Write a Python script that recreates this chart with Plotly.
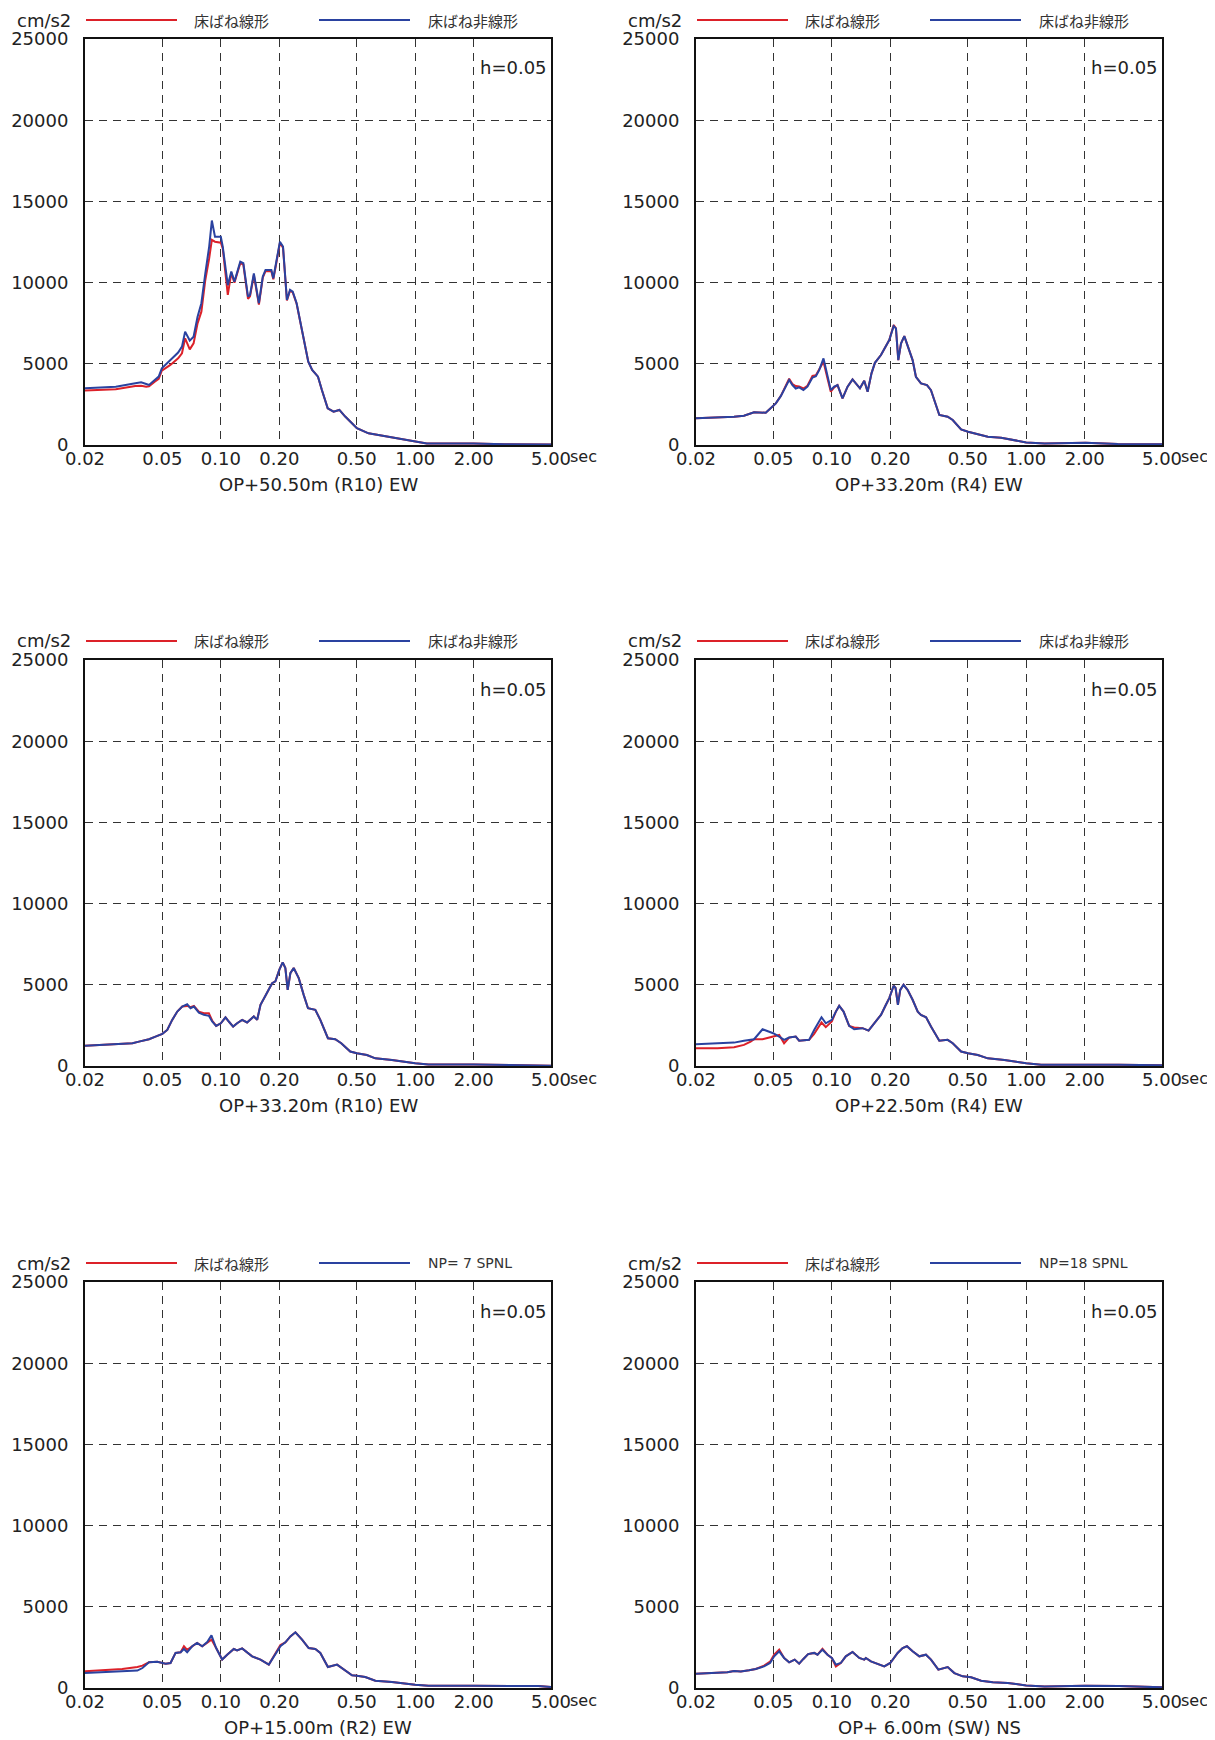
import math
import plotly.graph_objects as go

# spectra (period in sec, acceleration in cm/s2)

# OP+50.50m (R10) EW
period_1 = [0.02, 0.0288, 0.0363, 0.0389, 0.0413, 0.0427, 0.0457, 0.0479, 0.0497, 0.055,
            0.0603, 0.0631, 0.0655, 0.0692, 0.0724, 0.0759, 0.0794, 0.0832, 0.0871, 0.0899,
            0.0933, 0.1, 0.1023, 0.1086, 0.1132, 0.1175, 0.1259, 0.1306, 0.138, 0.1413,
            0.1479, 0.157, 0.1644, 0.1698, 0.182, 0.1862, 0.1923, 0.2014, 0.2089, 0.2188,
            0.227, 0.2344, 0.2455, 0.2606, 0.2818, 0.2951, 0.3162, 0.3311, 0.3548, 0.3802,
            0.4074, 0.4365, 0.5012, 0.5754, 0.7244, 0.8318, 1.0, 1.148, 1.995, 2.884, 5.0]
linear_1 = [3350, 3430, 3630, 3650, 3590, 3620, 3900, 4070, 4580, 4930,
            5340, 5650, 6570, 5890, 6260, 7490, 8210, 10160, 11500, 12630,
            12520, 12460, 12110, 9240, 10600, 10000, 11200, 11100, 9000, 9150,
            10450, 8650, 10300, 10700, 10700, 10200, 11100, 12450, 12150, 8900,
            9500, 9400, 8700, 7080, 5130, 4620, 4210, 3390, 2260, 2050,
            2160, 1750, 1030, 720, 510, 350, 200, 100, 100, 40, 30]
nonlin_1 = [3490, 3590, 3800, 3860, 3760, 3700, 4000, 4210, 4720, 5230,
            5690, 6060, 6980, 6430, 6670, 7900, 8730, 10570, 12220, 13820,
            12830, 12830, 12220, 9840, 10680, 10060, 11290, 11190, 9140, 9240,
            10570, 8730, 10370, 10780, 10780, 10270, 11190, 12520, 12220, 8930,
            9550, 9440, 8730, 7080, 5130, 4620, 4210, 3390, 2260, 2050,
            2160, 1750, 1030, 720, 510, 350, 200, 100, 100, 40, 30]

# OP+33.20m (R4) EW
period_2 = [0.02, 0.0258, 0.0314, 0.0353, 0.0375, 0.0398, 0.0457, 0.0485, 0.0515, 0.0546,
            0.0568, 0.0603, 0.0627, 0.0652, 0.0679, 0.0714, 0.0749, 0.0795, 0.0828, 0.0861,
            0.0906, 0.095, 0.0988, 0.1028, 0.107, 0.1135, 0.1205, 0.1278, 0.133, 0.1395,
            0.1468, 0.1528, 0.16, 0.1666, 0.179, 0.1876, 0.1975, 0.208, 0.2138, 0.2198,
            0.2269, 0.236, 0.2474, 0.2604, 0.2708, 0.2876, 0.3088, 0.3237, 0.3573, 0.3945,
            0.4188, 0.4624, 0.5023, 0.5638, 0.6345, 0.743, 1.0, 1.245, 2.02, 2.96, 5.0]
linear_2 = [1640, 1680, 1740, 1800, 1890, 2010, 1990, 2250, 2560, 3010,
            3420, 4080, 3750, 3630, 3600, 3480, 3650, 4250, 4300, 4650,
            5130, 4100, 3280, 3550, 3690, 2870, 3590, 4040, 3790, 3490,
            3960, 3280, 4410, 5060, 5540, 5950, 6460, 7380, 7180, 5230,
            6250, 6700, 5950, 5230, 4200, 3790, 3690, 3380, 1850, 1740,
            1540, 960, 820, 680, 510, 450, 160, 100, 140, 60, 40]
nonlin_2 = [1640, 1680, 1740, 1800, 1890, 2010, 1990, 2250, 2560, 3010,
            3420, 4000, 3690, 3480, 3550, 3380, 3590, 4160, 4240, 4610,
            5330, 4200, 3380, 3590, 3690, 2870, 3590, 4040, 3790, 3490,
            3960, 3280, 4410, 5060, 5540, 5950, 6460, 7320, 7180, 5230,
            6250, 6700, 5950, 5230, 4200, 3790, 3690, 3380, 1850, 1740,
            1540, 960, 820, 680, 510, 450, 160, 100, 140, 60, 40]

# OP+33.20m (R10) EW
period_3 = [0.02, 0.0256, 0.0311, 0.0351, 0.0379, 0.0427, 0.0461, 0.05, 0.053, 0.0562,
            0.0597, 0.0633, 0.0671, 0.0698, 0.0727, 0.0771, 0.0818, 0.0868, 0.0902, 0.0946,
            0.1, 0.1057, 0.1099, 0.1157, 0.1213, 0.1287, 0.1365, 0.1478, 0.1538, 0.16,
            0.1696, 0.1836, 0.1909, 0.2001, 0.2081, 0.2148, 0.2208, 0.228, 0.2371, 0.2517,
            0.2669, 0.2809, 0.3063, 0.325, 0.3557, 0.3878, 0.4165, 0.4634, 0.5012, 0.5643,
            0.6237, 0.7592, 1.0, 1.17, 2.0, 3.0, 5.0]
linear_3 = [1240, 1300, 1340, 1400, 1500, 1650, 1810, 1980, 2220, 2840,
            3350, 3660, 3700, 3620, 3700, 3350, 3250, 3250, 2800, 2470,
            2630, 3000, 2740, 2430, 2630, 2840, 2680, 3050, 2840, 3770,
            4320, 5100, 5210, 5930, 6380, 6030, 4690, 5720, 6030, 5410,
            4380, 3560, 3460, 2840, 1710, 1650, 1400, 890, 780, 680,
            470, 370, 165, 100, 100, 80, 20]
nonlin_3 = [1240, 1300, 1340, 1400, 1500, 1650, 1810, 1980, 2220, 2840,
            3350, 3660, 3810, 3560, 3660, 3290, 3150, 3090, 2740, 2470,
            2630, 3000, 2740, 2430, 2630, 2840, 2680, 3050, 2840, 3770,
            4320, 5100, 5210, 5930, 6380, 6030, 4690, 5720, 6030, 5410,
            4380, 3560, 3460, 2840, 1710, 1650, 1400, 890, 780, 680,
            470, 370, 165, 100, 100, 80, 20]

# OP+22.50m (R4) EW
period_4 = [0.02, 0.0258, 0.0314, 0.0353, 0.0382, 0.0398, 0.044, 0.0499, 0.0536, 0.0568,
            0.0603, 0.0652, 0.0679, 0.0764, 0.0811, 0.0885, 0.0931, 0.1, 0.1049, 0.1091,
            0.1149, 0.1228, 0.1303, 0.1439, 0.1545, 0.1652, 0.179, 0.1898, 0.1975, 0.208,
            0.2128, 0.2188, 0.2249, 0.2339, 0.2453, 0.2604, 0.2767, 0.2874, 0.3055, 0.3237,
            0.3573, 0.3945, 0.4188, 0.4624, 0.5023, 0.5638, 0.6345, 0.7727, 1.0, 1.194,
            2.0, 3.0, 5.0]
linear_4 = [1090, 1090, 1150, 1300, 1500, 1650, 1650, 1810, 1910, 1400,
            1750, 1810, 1560, 1610, 1980, 2680, 2390, 2740, 3350, 3700,
            3350, 2470, 2370, 2330, 2180, 2630, 3150, 3770, 4180, 4940,
            4800, 3770, 4690, 5000, 4690, 4080, 3350, 3150, 3000, 2430,
            1560, 1610, 1400, 890, 780, 680, 470, 370, 165, 80,
            100, 80, 40]
nonlin_4 = [1340, 1400, 1440, 1560, 1610, 1650, 2260, 2020, 1810, 1610,
            1750, 1810, 1560, 1610, 2220, 3000, 2630, 2840, 3350, 3700,
            3350, 2470, 2260, 2330, 2180, 2630, 3150, 3770, 4180, 4940,
            4800, 3770, 4690, 5000, 4690, 4080, 3350, 3150, 3000, 2430,
            1560, 1610, 1400, 890, 780, 680, 470, 370, 165, 80,
            100, 80, 40]

# OP+15.00m (R2) EW
period_5 = [0.02, 0.0256, 0.0311, 0.0372, 0.0395, 0.0427, 0.0471, 0.05, 0.052, 0.0551,
            0.0585, 0.0621, 0.0646, 0.0671, 0.0712, 0.0755, 0.0802, 0.0851, 0.0895, 0.0946,
            0.1016, 0.1078, 0.1166, 0.1213, 0.1287, 0.1449, 0.16, 0.1766, 0.1871, 0.2026,
            0.2148, 0.228, 0.242, 0.2618, 0.2831, 0.3063, 0.325, 0.3557, 0.3963, 0.4284,
            0.4732, 0.5012, 0.5534, 0.6237, 0.7592, 1.0, 1.17, 2.0, 3.0, 4.3, 5.0]
linear_5 = [1030, 1090, 1170, 1290, 1380, 1580, 1620, 1540, 1500, 1540,
            2160, 2200, 2570, 2350, 2570, 2770, 2570, 2770, 2980, 2460,
            1750, 2050, 2400, 2320, 2440, 1950, 1750, 1440, 1950, 2650,
            2810, 3180, 3430, 2980, 2460, 2400, 2160, 1290, 1440, 1130,
            780, 760, 680, 450, 370, 200, 140, 140, 120, 120, 60]
nonlin_5 = [920, 970, 1010, 1070, 1230, 1580, 1620, 1540, 1500, 1540,
            2160, 2200, 2400, 2200, 2570, 2770, 2570, 2830, 3240, 2460,
            1750, 2050, 2400, 2320, 2440, 1950, 1750, 1440, 1950, 2570,
            2810, 3180, 3430, 2980, 2460, 2400, 2160, 1290, 1440, 1130,
            780, 760, 680, 450, 370, 200, 140, 140, 120, 120, 60]

# OP+ 6.00m (SW) NS
period_6 = [0.02, 0.0258, 0.029, 0.0314, 0.034, 0.0375, 0.0406, 0.0448, 0.0481, 0.0505,
            0.0536, 0.0568, 0.0603, 0.0644, 0.0679, 0.0714, 0.0755, 0.0811, 0.0844, 0.0895,
            0.095, 0.1, 0.1049, 0.1112, 0.118, 0.1278, 0.1384, 0.1468, 0.1496, 0.1589,
            0.1719, 0.1862, 0.1999, 0.2181, 0.2313, 0.2435, 0.2604, 0.2819, 0.305, 0.3238,
            0.3533, 0.3946, 0.4271, 0.4716, 0.5205, 0.5861, 0.6731, 0.8042, 1.0, 1.245,
            2.0, 3.0, 5.0]
linear_6 = [880, 920, 970, 1050, 1010, 1090, 1170, 1380, 1620, 2050,
            2360, 1850, 1580, 1750, 1500, 1790, 2090, 2160, 2050, 2420,
            2050, 1850, 1330, 1540, 1950, 2220, 1850, 1750, 1850, 1640,
            1500, 1330, 1540, 2160, 2460, 2570, 2260, 1950, 2050, 1750,
            1130, 1290, 920, 720, 660, 450, 350, 310, 160, 100,
            140, 120, 40]
nonlin_6 = [880, 920, 970, 1050, 1010, 1090, 1170, 1330, 1540, 1950,
            2260, 1850, 1580, 1750, 1500, 1790, 2090, 2160, 2050, 2360,
            2050, 1850, 1440, 1540, 1950, 2220, 1850, 1750, 1850, 1640,
            1500, 1330, 1540, 2160, 2460, 2570, 2260, 1950, 2050, 1750,
            1130, 1290, 920, 720, 660, 450, 350, 310, 160, 100,
            140, 120, 40]

periods = [period_1, period_2, period_3, period_4, period_5, period_6]
linears = [linear_1, linear_2, linear_3, linear_4, linear_5, linear_6]
nonlins = [nonlin_1, nonlin_2, nonlin_3, nonlin_4, nonlin_5, nonlin_6]

titles = ["OP+50.50m (R10) EW", "OP+33.20m (R4) EW", "OP+33.20m (R10) EW",
          "OP+22.50m (R4) EW", "OP+15.00m (R2) EW", "OP+ 6.00m (SW) NS"]
red_names = ["床ばね線形"] * 6
blue_names = ["床ばね非線形", "床ばね非線形", "床ばね非線形", "床ばね非線形",
              "NP= 7 SPNL", "NP=18 SPNL"]

x_ticks = [0.02, 0.05, 0.1, 0.2, 0.5, 1, 2, 5]
x_ticktext = ["0.02", "0.05", "0.10", "0.20", "0.50", "1.00", "2.00", "5.00"]
y_ticks = [0, 5000, 10000, 15000, 20000, 25000]
y_ticktext = ["0", "5000", "10000", "15000", "20000", "25000"]

RED = "#dc2129"
BLUE = "#2a42a0"
FONT = "DejaVu Sans, sans-serif"
JP = "Noto Sans CJK JP, sans-serif"
TXT = "#222"

# the page puts the figure at an 8px body margin; figure fills the rest of the window
PAD = 8
W, H = 1215 - PAD, 1740 - PAD
cols = [(85, 551), (696, 1162)]
rows = [(39, 445), (660, 1066), (1282, 1688)]


def px(x):
    return (x - PAD) / W


def py(y):
    return 1 - (y - PAD) / H


def label(x, y, text, anchor, size=18, family=FONT, color=TXT):
    return dict(x=px(x), y=py(y), xref="paper", yref="paper", text=text,
                showarrow=False, xanchor=anchor, yanchor="middle",
                font=dict(size=size, color=color, family=family))


fig = go.Figure()
layout = {}
annotations = []
shapes = []

for i in range(6):
    r, c = i // 2, i % 2
    x0, x1 = cols[c]
    y0, y1 = rows[r]
    s = "" if i == 0 else str(i + 1)

    fig.add_trace(go.Scatter(x=periods[i], y=linears[i], mode="lines",
                             line=dict(color=RED, width=2),
                             xaxis="x" + s, yaxis="y" + s, showlegend=False))
    fig.add_trace(go.Scatter(x=periods[i], y=nonlins[i], mode="lines",
                             line=dict(color=BLUE, width=2),
                             xaxis="x" + s, yaxis="y" + s, showlegend=False))

    layout["xaxis" + s] = dict(
        domain=[px(x0), px(x1)], anchor="y" + s, type="log", automargin=False,
        range=[math.log10(0.02), math.log10(5)],
        tickvals=x_ticks, ticktext=x_ticktext, ticks="", ticklabelstandoff=-4,
        tickfont=dict(size=18, color=TXT, family=FONT),
        showgrid=True, gridcolor="#333", gridwidth=1, griddash="8px,6px",
        showline=True, mirror=True, linecolor="#111", linewidth=2, zeroline=False)
    layout["yaxis" + s] = dict(
        domain=[py(y1), py(y0)], anchor="x" + s, range=[0, 25000], automargin=False,
        tickvals=y_ticks, ticktext=y_ticktext, ticks="", ticklabelstandoff=11,
        tickfont=dict(size=18, color=TXT, family=FONT),
        showgrid=True, gridcolor="#333", gridwidth=1, griddash="8px,6px",
        showline=True, mirror=True, linecolor="#111", linewidth=2, zeroline=False)

    # header: unit + legend
    ly = y0 - 19
    annotations.append(label(x0 - 12, ly, "cm/s2", "right"))
    shapes.append(dict(type="line", xref="paper", yref="paper",
                       x0=px(x0 + 1), x1=px(x0 + 92), y0=py(ly), y1=py(ly),
                       line=dict(color=RED, width=2)))
    shapes.append(dict(type="line", xref="paper", yref="paper",
                       x0=px(x0 + 234), x1=px(x0 + 325), y0=py(ly), y1=py(ly),
                       line=dict(color=BLUE, width=2)))
    annotations.append(label(x0 + 107, ly, red_names[i], "left", 15, JP, "#333"))
    blue_font = JP if blue_names[i].startswith("床") else FONT
    annotations.append(label(x0 + 341, ly, blue_names[i], "left",
                             15 if blue_font == JP else 14, blue_font, "#333"))

    # damping note
    annotations.append(label(x0 + 393, y0 + 29, "h=0.05", "left"))
    # unit after last tick label (kept inside the visible page on the right)
    annotations.append(label(x1 + 17, y1 + 12, "sec", "left", 16))
    # panel caption
    annotations.append(label((x0 + x1) / 2, y1 + 39, titles[i], "center"))

fig.update_layout(
    width=W, height=H,
    margin=dict(l=0, r=0, t=0, b=0),
    paper_bgcolor="white", plot_bgcolor="white",
    font=dict(family=FONT, color=TXT),
    annotations=annotations, shapes=shapes,
    **layout)

fig.write_html("out.html")
